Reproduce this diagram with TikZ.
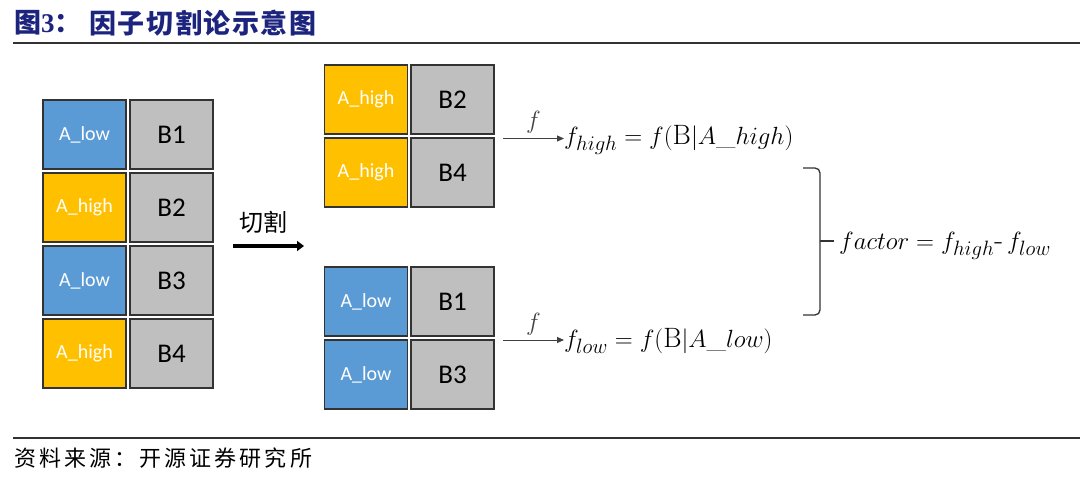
\documentclass[tikz,border=0pt]{standalone}
\usepackage{fontspec}
\setsansfont{Carlito}
\newfontfamily\cjk{Noto Sans CJK SC}
\newfontfamily\cjktitle[LetterSpace=6]{Noto Sans CJK SC}
\newfontfamily\cjkfoot[LetterSpace=14]{Noto Sans CJK SC}
\newfontfamily\serifnum{Liberation Serif}
\usetikzlibrary{arrows.meta,calc}
\definecolor{ablue}{RGB}{91,155,213}
\definecolor{ahigh}{RGB}{255,192,0}
\definecolor{bgray}{RGB}{191,191,191}
\definecolor{titleblue}{RGB}{28,36,125}
\definecolor{rulegray}{RGB}{50,50,50}
\tikzset{
  cell/.style={draw=black!80, line width=1.3pt, minimum width=83pt, minimum height=69pt, inner sep=0pt, outer sep=0pt},
  lowbox/.style={cell, fill=ablue, text=white, font=\sffamily\fontsize{20}{20}\selectfont},
  highbox/.style={cell, fill=ahigh, text=white, font=\sffamily\fontsize{20}{20}\selectfont},
  bbox/.style={cell, fill=bgray, text=black, font=\sffamily\fontsize{27}{27}\selectfont},
  fml/.style={font=\fontsize{28}{28}\selectfont, inner sep=0pt, anchor=west},
  farrow/.style={-{Triangle[length=7pt,width=6pt]}, line width=0.9pt, black!75},
  rulestyle/.style={line width=1.4pt, rulegray}
}
\begin{document}
\begin{tikzpicture}[x=1pt,y=-1pt]
\useasboundingbox (0,0) rectangle (1080,479);
% title
\node[anchor=west, inner sep=0pt, text=titleblue, font=\fontsize{27}{27}\selectfont] (t1) at (14,23) {\cjk\bfseries 图\serifnum\bfseries 3\cjk\bfseries ：};
\node[anchor=west, inner sep=0pt, text=titleblue, font=\fontsize{27}{27}\selectfont] (t2) at (89,23) {\cjktitle\bfseries 因子切割论示意图};
\coordinate (r1a) at (13,43);
\coordinate (r1b) at (1080,43);
\draw[rulestyle] (r1a) -- (r1b);
% left column
\node[lowbox]  (L1) at (84.5,134.5) {A\_low};
\node[bbox]    (LB1) at (171.5,134.5) {B1};
\node[highbox] (L2) at (84.5,207.5) {A\_high};
\node[bbox]    (LB2) at (171.5,207.5) {B2};
\node[lowbox]  (L3) at (84.5,280.5) {A\_low};
\node[bbox]    (LB3) at (171.5,280.5) {B3};
\node[highbox] (L4) at (84.5,353.5) {A\_high};
\node[bbox]    (LB4) at (171.5,353.5) {B4};
% cut arrow
\coordinate (c1) at (233,246);
\coordinate (c2) at (304,246);
\draw[-{Triangle[length=7pt,width=10pt]}, line width=3.8pt, black] (c1) -- (c2);
\node[font=\cjk\fontsize{24}{24}\selectfont, inner sep=0pt] (cut) at (263,222) {切割};
% top group
\node[highbox] (H1) at (366,99.5) {A\_high};
\node[bbox]    (HB1) at (452.5,99.5) {B2};
\node[highbox] (H2) at (366,172.5) {A\_high};
\node[bbox]    (HB2) at (452.5,172.5) {B4};
% bottom group
\node[lowbox]  (W1) at (366,301.5) {A\_low};
\node[bbox]    (WB1) at (452.5,301.5) {B1};
\node[lowbox]  (W2) at (366,374.5) {A\_low};
\node[bbox]    (WB2) at (452.5,374.5) {B3};
% formulas
\node[fml] (fh) at (564,140) {$f_{high} = f(\mathrm{B}|A\_high)$};
\node[fml] (fl) at (564,341) {$f_{low} = f(\mathrm{B}|A\_low)$};
\coordinate (ah) at (503,138.5);
\coordinate (al) at (503,340);
\draw[farrow] (ah) -- (fh.west |- ah) node[midway, above=1pt, font=\fontsize{28}{28}\selectfont] {$f$};
\draw[farrow] (al) -- (fl.west |- al) node[midway, above=1pt, font=\fontsize{28}{28}\selectfont] {$f$};
% brace
\coordinate (bt) at (803,168);
\coordinate (bb) at (803,315);
\coordinate (bm) at (820,241);
\draw[line width=1.3pt, black!80, rounded corners=5pt] (bt) -- (820,168) -- (820,315) -- (bb);
\draw[line width=1.3pt, black!80] (bm) -- (834,241);
\node[fml, font=\fontsize{29}{29}\selectfont] (fac) at (839,246) {$factor = f_{high}\mbox{-}\, f_{low}$};
% footer
\coordinate (r2a) at (13,438);
\coordinate (r2b) at (1080,438);
\draw[rulestyle] (r2a) -- (r2b);
\node[anchor=west, inner sep=0pt, font=\fontsize{22}{22}\selectfont] (src) at (14,458) {\cjkfoot 资料来源：开源证券研究所};
\end{tikzpicture}
\end{document}
